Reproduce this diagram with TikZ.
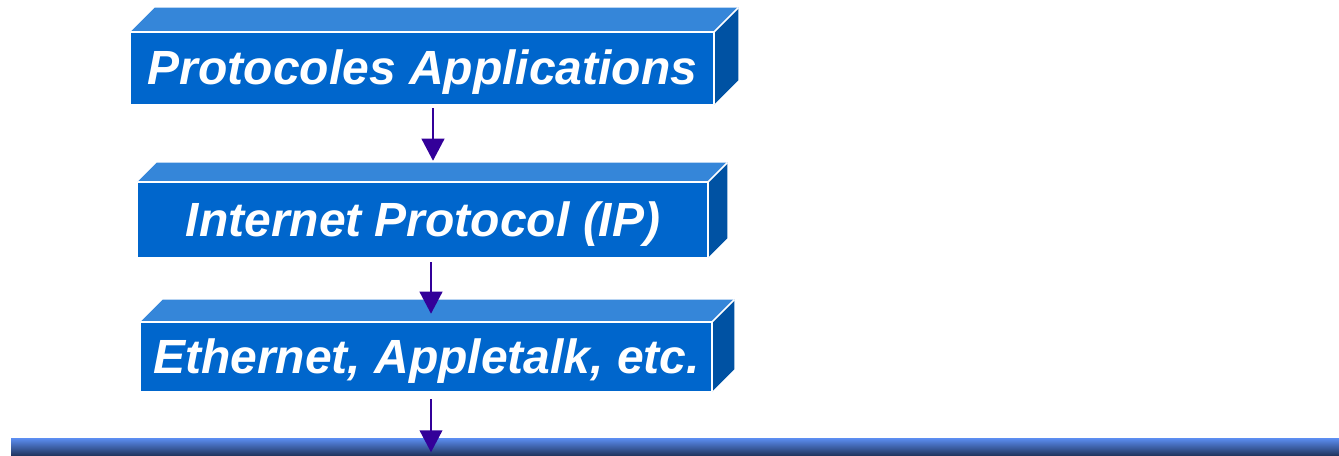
\documentclass[tikz,border=0pt]{standalone}
\usepackage{fontspec}
\setmainfont{Liberation Sans}
\usepackage{tikz}
\usetikzlibrary{calc}
\usetikzlibrary{arrows.meta}
\usepackage{color}
\definecolor{frontblue}{RGB}{0,102,204}
\definecolor{topblue}{RGB}{53,134,217}
\definecolor{sideblue}{RGB}{0,82,163}
\definecolor{arrowviolet}{RGB}{51,0,153}
\definecolor{bustop}{RGB}{92,142,242}
\definecolor{busmid}{RGB}{70,110,200}
\definecolor{busbottom}{RGB}{30,50,90}
\tikzset{
	front/.style={fill=frontblue, text=white, inner sep=0pt, text height=25.5pt, text depth=0pt,
		font=\fontsize{36}{40}\selectfont\bfseries\itshape},
	flow/.style={draw=arrowviolet, line width=1.5pt, -{Triangle[length=16.5pt,width=17pt]}},
	bus/.style={inner sep=0pt, top color=bustop, middle color=busmid, bottom color=busbottom}
}
\newcommand{\protobox}[7] % name, x in px, y in px, width, height, depth in px, text
{
	% front face with the text
	\node[front, minimum width=#4*0.75pt, minimum height=#5*0.75pt] (#1) at (#2,#3) {#7};
	% back corners
	\coordinate (#1-tl) at ($(#1.north west)+(#6,-#6)$);
	\coordinate (#1-tr) at ($(#1.north east)+(#6,-#6)$);
	\coordinate (#1-br) at ($(#1.south east)+(#6,-#6)$);
	% top and side faces
	\fill[topblue] (#1.north west) -- (#1-tl) -- (#1-tr) -- (#1.north east) -- cycle;
	\fill[sideblue] (#1.north east) -- (#1-tr) -- (#1-br) -- (#1.south east) -- cycle;
	% white edges
	\draw[white, line width=1.2pt] (#1.north west) -- (#1.north east) -- (#1.south east);
	\draw[white, line width=1.2pt] (#1.north east) -- (#1-tr);
}

\begin{document}
\begin{tikzpicture}[x=0.75pt, y=-0.75pt]
	% 1339 x 456 px
	\useasboundingbox (0,0) rectangle (1339,456);
	\protobox{apps}{422.5}{68}{583}{72}{24}{Protocoles Applications};
	\protobox{ip}{423}{219.5}{570}{75}{19}{Internet Protocol (IP)};
	\protobox{eth}{426.5}{356.5}{571}{69}{22}{Ethernet, Appletalk, etc.};
	
	% network line
	\node[bus, minimum width=1328*0.75pt, minimum height=18*0.75pt] (lan) at (675,447) {};
	\coordinate (tap) at (eth.south |- lan.south);
	
	\draw[flow] ([shift={(10.5,4)}]apps.south) -- ([shift={(10,-21)}]ip.north);
	\draw[flow] ([shift={(8,5)}]ip.south) -- ([shift={(4.5,-8)}]eth.north);
	\draw[flow] ([shift={(4.5,8)}]eth.south) -- ([shift={(4.5,-4)}]tap);
	
\end{tikzpicture}
\end{document}
